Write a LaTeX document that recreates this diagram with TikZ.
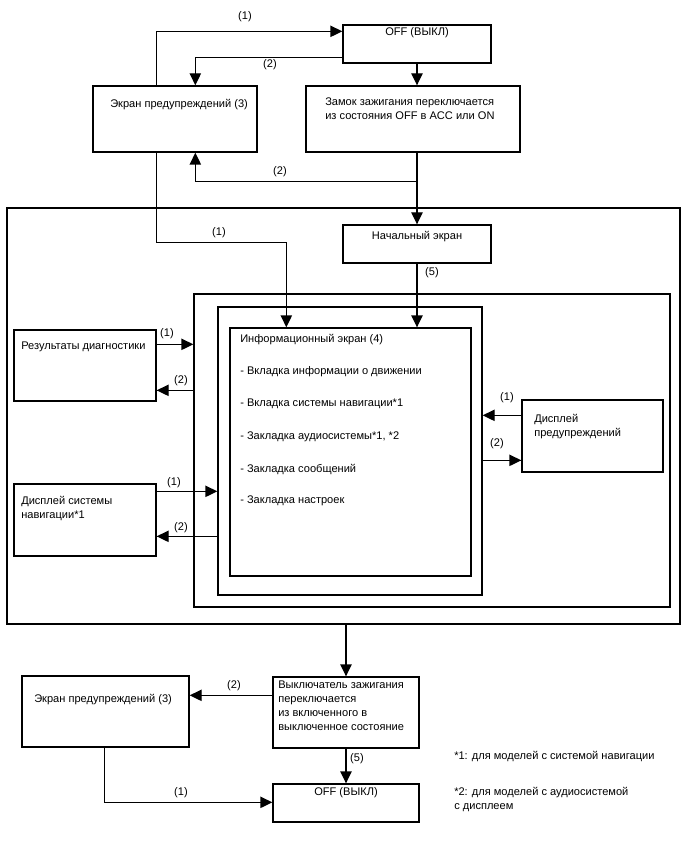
\documentclass[tikz,border=0pt]{standalone}
\usepackage{fontspec}
\setmainfont{Liberation Sans}
\usetikzlibrary{arrows.meta,fit,calc}
\begin{document}
\begin{tikzpicture}[x=0.75pt,y=-0.75pt,
  box/.style={draw, line width=1pt, inner sep=0pt},
  arr/.style={line width=1pt, -{Triangle[length=9pt,width=8.5pt]}},
  txt/.style={inner sep=0pt, font=\fontsize{8.3}{10.5}\selectfont, align=left},
  lbl/.style={inner sep=0pt, font=\fontsize{8.3}{10}\selectfont}]
\useasboundingbox (0,0) rectangle (688,852);
% boxes
\node[box, fit={(343,25) (491,63)}] (off1) {};
\node[box, fit={(93,86) (257,152)}] (warn1) {};
\node[box, fit={(306,86) (520,152)}] (zamok) {};
\node[box, fit={(7,208) (680,624)}] (outer) {};
\node[box, fit={(343,225) (491,263)}] (start) {};
\node[box, fit={(194,294) (670,607)}] (big) {};
\node[box, fit={(218,307) (482,595)}] (mid) {};
\node[box, fit={(230,328) (471,576)}] (info) {};
\node[box, fit={(14,330) (156,401)}] (diag) {};
\node[box, fit={(522,400) (663,472)}] (dwarn) {};
\node[box, fit={(14,484) (156,556)}] (nav) {};
\node[box, fit={(273,677) (419,748)}] (ignoff) {};
\node[box, fit={(22,676) (189,747)}] (warn2) {};
\node[box, fit={(273,784) (419,822)}] (off2) {};
% texts
\node[txt] (toff1) at (417,33) {OFF (ВЫКЛ)};
\node[txt, anchor=west] (twarn1) at (110,105) {Экран предупреждений (3)};
\node[txt, anchor=north west] (tzamok) at (325,98) {Замок зажигания переключается\\из состояния OFF в ACC или ON};
\node[txt] (tstart) at (417,237) {Начальный экран};
\node[txt, anchor=west] (ti0) at (240,340) {Информационный экран (4)};
\node[txt, anchor=west] (ti1) at (240,372) {- Вкладка информации о движении};
\node[txt, anchor=west] (ti2) at (240,404) {- Вкладка системы навигации*1};
\node[txt, anchor=west] (ti3) at (240,437) {- Закладка аудиосистемы*1, *2};
\node[txt, anchor=west] (ti4) at (240,469) {- Закладка сообщений};
\node[txt, anchor=west] (ti5) at (240,501) {- Закладка настроек};
\node[txt, anchor=west] (tdiag) at (21,347) {Результаты диагностики};
\node[txt, anchor=north west] (tdwarn) at (534,414) {Дисплей\\предупреждений};
\node[txt, anchor=north west] (tnav) at (21,496) {Дисплей системы\\навигации*1};
\node[txt, anchor=north west] (tign) at (278,681) {Выключатель зажигания\\переключается\\из включенного в\\выключенное состояние};
\node[txt, anchor=west] (twarn2) at (34,700) {Экран предупреждений (3)};
\node[txt] (toff2) at (346,793) {OFF (ВЫКЛ)};
\node[txt, anchor=west] (fn1) at (454,756) {*1: для моделей с системой навигации};
\node[txt, anchor=north west] (fn2) at (454,787) {*2: для моделей с аудиосистемой\\с дисплеем};
% connectors
\draw[arr] ($(warn1.north west)+(64,0)$) |- ($(off1.north west)+(0,7)$);
\node[lbl] (l1) at (245,17) {(1)};
\draw[arr] ($(off1.north west)+(0,33)$) -| ($(warn1.north west)+(103,0)$);
\node[lbl] (l2) at (270,65) {(2)};
\draw[arr] (off1.south) -- (off1.south |- zamok.north);
\draw[arr] (zamok.south -| off1.south) |- ($(warn1.south west)+(103,29)$) -- ($(warn1.south west)+(103,0)$);
\node[lbl] (l3) at (280,172) {(2)};
\draw[arr] (zamok.south -| off1.south) -- (off1.south |- start.north);
\draw[arr] ($(warn1.south west)+(64,0)$) |- ($(info.north west)+(57,-85)$) -- ($(info.north west)+(57,0)$);
\node[lbl] (l4) at (219,233) {(1)};
\draw[arr] (start.south) -- (start.south |- info.north);
\node[lbl] (l5) at (432,273) {(5)};
\draw[arr] ($(diag.north east)+(0,15)$) coordinate (p1) -- (p1 -| big.west);
\node[lbl] (l6) at (167,334) {(1)};
\draw[arr] ($(diag.north east)+(0,61)$) coordinate (p2) -| (big.west |- p2) -- (p2);
\node[lbl] (l7) at (181,381) {(2)};
\draw[arr] ($(dwarn.north west)+(0,16)$) coordinate (p3) -- (p3 -| mid.east);
\node[lbl] (l8) at (507,398) {(1)};
\draw[arr] ($(dwarn.north west)+(0,61)$) coordinate (p4) -| (mid.east |- p4) -- (p4);
\node[lbl] (l9) at (497,444) {(2)};
\draw[arr] ($(nav.north east)+(0,8)$) coordinate (p5) -- (p5 -| mid.west);
\node[lbl] (l10) at (174,483) {(1)};
\draw[arr] ($(nav.north east)+(0,53)$) coordinate (p6) -| (mid.west |- p6) -- (p6);
\node[lbl] (l11) at (181,528) {(2)};
\draw[arr] (outer.south -| ignoff.north) -- (ignoff.north);
\draw[arr] ($(ignoff.north west)+(0,19)$) coordinate (p7) -- (p7 -| warn2.east);
\node[lbl] (l12) at (234,686) {(2)};
\draw[arr] (ignoff.south) -- (off2.north);
\node[lbl] (l13) at (357,759) {(5)};
\draw[arr] ($(warn2.south west)+(83,0)$) |- ($(off2.north west)+(0,19)$);
\node[lbl] (l14) at (181,793) {(1)};
\end{tikzpicture}
\end{document}
